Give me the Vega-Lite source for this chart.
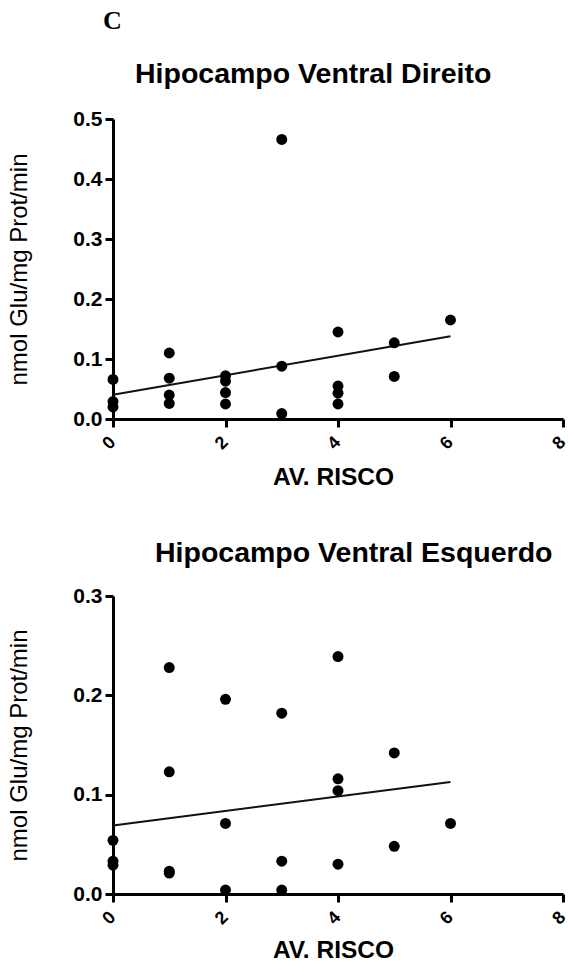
{
  "$schema": "https://vega.github.io/schema/vega-lite/v6.json",
  "padding": {"left": 6, "top": 7, "right": 0, "bottom": 0},
  "background": "white",
  "title": {"text": "C", "font": "Liberation Serif", "fontSize": 26, "fontWeight": "bold", "color": "black", "anchor": "start", "frame": "group", "dx": -10, "offset": 26},
  "datasets": {
    "pts": [
      {"panel": "D", "x": 0, "y": 0.066}, {"panel": "D", "x": 0, "y": 0.029}, {"panel": "D", "x": 0, "y": 0.020},
      {"panel": "D", "x": 1, "y": 0.110}, {"panel": "D", "x": 1, "y": 0.068}, {"panel": "D", "x": 1, "y": 0.040}, {"panel": "D", "x": 1, "y": 0.026},
      {"panel": "D", "x": 2, "y": 0.072}, {"panel": "D", "x": 2, "y": 0.063}, {"panel": "D", "x": 2, "y": 0.044}, {"panel": "D", "x": 2, "y": 0.025},
      {"panel": "D", "x": 3, "y": 0.466}, {"panel": "D", "x": 3, "y": 0.088}, {"panel": "D", "x": 3, "y": 0.009},
      {"panel": "D", "x": 4, "y": 0.145}, {"panel": "D", "x": 4, "y": 0.055}, {"panel": "D", "x": 4, "y": 0.043}, {"panel": "D", "x": 4, "y": 0.025},
      {"panel": "D", "x": 5, "y": 0.127}, {"panel": "D", "x": 5, "y": 0.071},
      {"panel": "D", "x": 6, "y": 0.165},
      {"panel": "E", "x": 0, "y": 0.054}, {"panel": "E", "x": 0, "y": 0.033}, {"panel": "E", "x": 0, "y": 0.029},
      {"panel": "E", "x": 1, "y": 0.228}, {"panel": "E", "x": 1, "y": 0.123}, {"panel": "E", "x": 1, "y": 0.023}, {"panel": "E", "x": 1, "y": 0.021},
      {"panel": "E", "x": 2, "y": 0.196}, {"panel": "E", "x": 2, "y": 0.071}, {"panel": "E", "x": 2, "y": 0.004},
      {"panel": "E", "x": 3, "y": 0.182}, {"panel": "E", "x": 3, "y": 0.033}, {"panel": "E", "x": 3, "y": 0.004},
      {"panel": "E", "x": 4, "y": 0.239}, {"panel": "E", "x": 4, "y": 0.116}, {"panel": "E", "x": 4, "y": 0.104}, {"panel": "E", "x": 4, "y": 0.030},
      {"panel": "E", "x": 5, "y": 0.142}, {"panel": "E", "x": 5, "y": 0.048},
      {"panel": "E", "x": 6, "y": 0.071}
    ],
    "fit": [
      {"panel": "D", "x": 0, "y": 0.0405}, {"panel": "D", "x": 6, "y": 0.138},
      {"panel": "E", "x": 0, "y": 0.069}, {"panel": "E", "x": 6, "y": 0.1127}
    ]
  },
  "vconcat": [
    {
      "width": 450, "height": 300,
      "title": {"text": "Hipocampo Ventral Direito", "anchor": "start", "frame": "group", "dx": 22, "offset": 20},
      "encoding": {
        "x": {"field": "x", "type": "quantitative", "scale": {"domain": [0, 8], "nice": false, "zero": false},
              "axis": {"values": [0, 2, 4, 6, 8], "title": "AV. RISCO", "titleX": 220, "titleY": 65}},
        "y": {"field": "y", "type": "quantitative", "scale": {"domain": [0, 0.5], "nice": false},
              "axis": {"values": [0, 0.1, 0.2, 0.3, 0.4, 0.5], "format": ".1f", "title": "nmol Glu/mg Prot/min", "titleX": -82, "titleY": 150}}
      },
      "layer": [
        {"data": {"name": "fit"}, "transform": [{"filter": "datum.panel == 'D'"}], "mark": {"type": "line", "color": "#111111", "strokeWidth": 2}},
        {"data": {"name": "pts"}, "transform": [{"filter": "datum.panel == 'D'"}], "mark": {"type": "point", "filled": true, "color": "black", "opacity": 1, "size": 120}}
      ]
    },
    {
      "width": 450, "height": 298,
      "title": {"text": "Hipocampo Ventral Esquerdo", "anchor": "start", "frame": "group", "dx": 42, "offset": 18},
      "encoding": {
        "x": {"field": "x", "type": "quantitative", "scale": {"domain": [0, 8], "nice": false, "zero": false},
              "axis": {"values": [0, 2, 4, 6, 8], "title": "AV. RISCO", "titleX": 220, "titleY": 63}},
        "y": {"field": "y", "type": "quantitative", "scale": {"domain": [0, 0.3], "nice": false},
              "axis": {"values": [0, 0.1, 0.2, 0.3], "format": ".1f", "title": "nmol Glu/mg Prot/min", "titleX": -82, "titleY": 149}}
      },
      "layer": [
        {"data": {"name": "fit"}, "transform": [{"filter": "datum.panel == 'E'"}], "mark": {"type": "line", "color": "#111111", "strokeWidth": 2}},
        {"data": {"name": "pts"}, "transform": [{"filter": "datum.panel == 'E'"}], "mark": {"type": "point", "filled": true, "color": "black", "opacity": 1, "size": 120}}
      ]
    }
  ],
  "spacing": 177,
  "bounds": "flush",
  "config": {
    "view": {"stroke": null},
    "font": "Liberation Sans",
    "title": {"font": "Liberation Sans", "fontSize": 28.5, "fontWeight": "bold", "color": "black", "baseline": "alphabetic"},
    "axis": {
      "grid": false,
      "domainColor": "black", "domainWidth": 3,
      "tickColor": "black", "tickWidth": 3, "tickSize": 8,
      "labelFont": "Liberation Sans", "labelFontWeight": "bold", "labelFontSize": 21, "labelColor": "black",
      "titleFont": "Liberation Sans", "titleColor": "black"
    },
    "axisX": {"labelAngle": -45, "labelAlign": "center", "labelBaseline": "middle", "labelPadding": 16, "labelOffset": -4, "labelFontSize": 18,
              "titleFontSize": 24.5, "titleFontWeight": "bold", "titleBaseline": "alphabetic"},
    "axisY": {"labelPadding": 3, "titleFontSize": 24, "titleFontWeight": "normal", "titleBaseline": "bottom"}
  }
}
